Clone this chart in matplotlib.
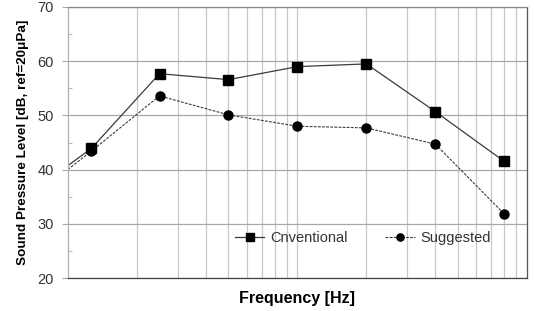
import matplotlib.pyplot as plt
from matplotlib.ticker import FixedLocator, NullFormatter, MultipleLocator

plt.rcParams['font.family'] = ['Liberation Sans', 'DejaVu Sans']

# octave band centre frequencies (31.5 Hz point lies left of the axis, only its line shows)
freqs = [31.5, 63, 125, 250, 500, 1000, 2000, 4000]
conventional = [34.6, 43.9, 57.7, 56.6, 59.0, 59.5, 50.7, 41.5]
suggested = [33.5, 43.4, 53.6, 50.1, 48.0, 47.7, 44.7, 31.8]

# vertical gridlines as drawn in the original
x_grid = [100, 150, 200, 250, 300, 350, 400, 450, 500,
          1000, 1500, 2000, 2500, 3000, 3500, 4000, 4500]

fig = plt.figure(figsize=(5.34, 3.11), dpi=100)
ax = fig.add_axes([0.128, 0.106, 0.858, 0.8715])

ax.plot(freqs, conventional, color='#3a3a3a', lw=0.9, marker='s', ms=6.5,
        mfc='black', mec='black', label='Cnventional')
ax.plot(freqs, suggested, color='#3a3a3a', lw=0.8, ls=(0, (2.5, 1.2)), marker='o', ms=6.5,
        mfc='black', mec='black', label='Suggested')

ax.set_xscale('log')
ax.set_xlim(50, 5000)
ax.set_ylim(20, 70)

ax.xaxis.set_major_locator(FixedLocator(x_grid))
ax.xaxis.set_minor_locator(FixedLocator([]))
ax.xaxis.set_major_formatter(NullFormatter())
ax.tick_params(axis='x', which='both', length=0)
ax.grid(True, axis='x', color='#c8c8c8', lw=0.9)

ax.yaxis.set_major_locator(MultipleLocator(10))
ax.yaxis.set_minor_locator(MultipleLocator(5))
ax.grid(True, axis='y', which='major', color='#a8a8a8', lw=0.9)
ax.tick_params(axis='y', which='major', length=4, color='#a8a8a8', labelsize=10.5,
               labelcolor='#333333', pad=6.5)
ax.tick_params(axis='y', which='minor', direction='in', length=3, color='#a8a8a8')

ax.spines['left'].set_color('#b0b0b0')
ax.spines['top'].set_color('#888888')
ax.spines['right'].set_color('#555555')
ax.spines['bottom'].set_color('#444444')
for s in ax.spines.values():
    s.set_linewidth(0.9)

ax.set_ylabel('Sound Pressure Level [dB, ref=20\u03bcPa]', fontsize=9.7,
              fontweight='bold', labelpad=6)
ax.set_xlabel('Frequency [Hz]', fontsize=11.5, fontweight='bold', labelpad=6)

ax.legend(loc='center', bbox_to_anchor=(0.643, 0.148), ncol=2, frameon=False,
          fontsize=10.5, handlelength=2.0, handletextpad=0.4, columnspacing=2.6,
          markerscale=0.8, labelcolor='#333333')

fig.savefig('out.png', dpi=100)
